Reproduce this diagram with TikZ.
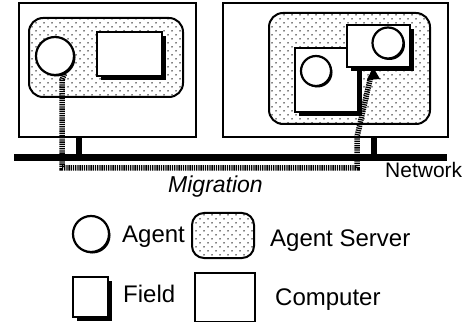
\documentclass[tikz,border=0pt]{standalone}
\usepackage{fontspec}
\setmainfont{Liberation Sans}
\usetikzlibrary{patterns.meta,arrows.meta,shadows,calc}
\begin{document}
\begin{tikzpicture}[x=1pt,y=-1pt,
  computer/.style={draw=black,line width=1.8pt,fill=white,rectangle,inner sep=0pt},
  server/.style={draw=black,line width=2pt,fill=white,rectangle,rounded corners=14pt,inner sep=0pt,
     postaction={pattern={Dots[distance=8pt,radius=0.75pt]}},
     postaction={pattern={Dots[distance=8pt,radius=0.75pt,xshift=4pt,yshift=4pt]}}},
  field/.style={draw=black,line width=2pt,fill=white,rectangle,inner sep=0pt,
     general shadow={fill=black,shadow xshift=4pt,shadow yshift=-4pt}},
  agent/.style={draw=black,line width=2.2pt,fill=white,circle,inner sep=0pt,
     general shadow={fill=black,shadow xshift=1.5pt,shadow yshift=-1.5pt}},
  net/.style={line width=7pt,black},
  stand/.style={line width=6pt,black},
  migr/.style={line width=5.5pt,black,dash pattern=on 1.3pt off 0.9pt},
  lbl/.style={anchor=base west,inner sep=0pt,font=\fontsize{24}{24}\selectfont}]
\useasboundingbox (0,0) rectangle (463,323);
% computers
\node[computer,minimum width=177pt,minimum height=134pt] (c1) at (107.5,70) {};
\node[computer,minimum width=225pt,minimum height=134pt] (c2) at (335.5,70) {};
% agent servers
\node[server,minimum width=154pt,minimum height=79pt] (s1) at (106,57.5) {};
\node[server,minimum width=161pt,minimum height=111pt] (s2) at (349.5,68.5) {};
% fields
\node[field,minimum width=65pt,minimum height=44pt] (f0) at (129.5,54) {};
\node[field,minimum width=63pt,minimum height=64pt] (f1) at (326.5,80) {};
\node[field,minimum width=63pt,minimum height=42pt] (f2) at (378.5,46) {};
% agents
\node[agent,minimum size=38pt] (a1) at (55,56) {};
\node[agent,minimum size=30pt] (a2) at (316,71) {};
\node[agent,minimum size=31pt] (a3) at (388,43) {};
% network
\coordinate (nl) at (14,157.5);
\coordinate (nr) at (447,157.5);
\draw[net] (nl) -- (nr);
\draw[stand] (c1.south -| 79,0) -- (79,154);
\draw[stand] (c2.south -| 373.5,0) -- (373.5,154);
% migration path
\coordinate (m1) at (62,80);
\coordinate (m2) at (62,168);
\coordinate (m3) at (357,168);
\coordinate (m4) at (357,137);
\coordinate (tip) at (373,67);
\draw[migr] (a1.-62) -- (m1) -- (m2) -- (m3) -- (m4) -- ($(tip)+(-2.4,10)$);
\path[fill=black] (tip) -- (367,80) -- (380,79) -- cycle;
% labels
\node[lbl,font=\fontsize{23}{23}\selectfont\itshape] (lm) at (168,193) {Migration};
\node[lbl,font=\fontsize{21}{21}\selectfont] (ln) at (385,178) {Network};
% legend
\node[agent,minimum size=36pt] (la) at (91,234) {};
\node[lbl] (ta) at (122,242) {Agent};
\node[server,rounded corners=12pt,minimum width=62pt,minimum height=45pt] (ls) at (223,235.5) {};
\node[lbl] (ts) at (270,247) {Agent Server};
\node[field,minimum width=35pt,minimum height=40pt] (lf) at (90.5,297) {};
\node[lbl] (tf) at (123,302) {Field};
\node[computer,minimum width=60pt,minimum height=48.5pt] (lc) at (225,297.25) {};
\node[lbl] (tc) at (275,305) {Computer};
\end{tikzpicture}
\end{document}
